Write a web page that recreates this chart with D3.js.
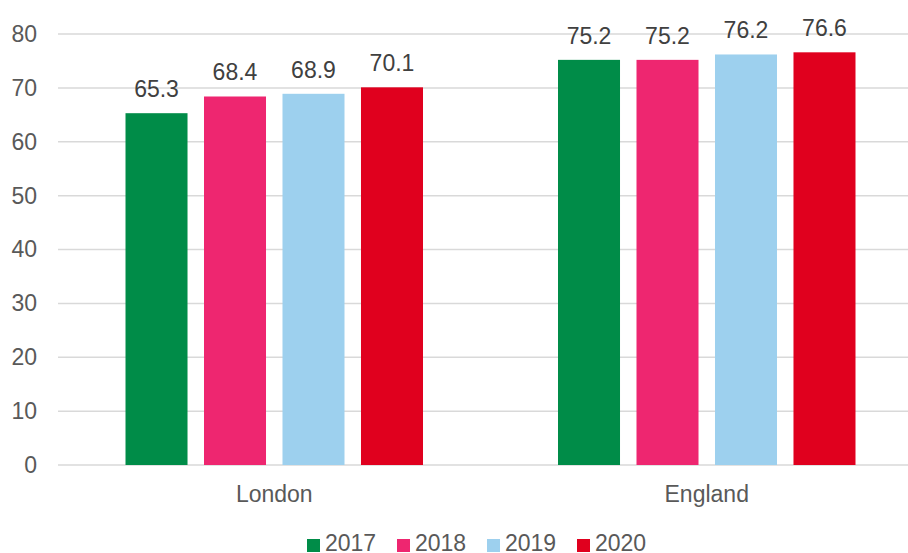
<!DOCTYPE html>
<html>
<head>
<meta charset="utf-8">
<script src="https://cdn.jsdelivr.net/npm/d3@7"></script>
<style>
  body { margin: 0; background: #fff; }
  svg text { font-family: "Liberation Sans", Arial, sans-serif; }
</style>
</head>
<body>
<div id="chart"></div>
<script>
// Chart data
const areas = ["London", "England"];
const years = ["2017", "2018", "2019", "2020"];
const values2017 = [65.3, 75.2];
const values2018 = [68.4, 75.2];
const values2019 = [68.9, 76.2];
const values2020 = [70.1, 76.6];
const yTicks = [0, 10, 20, 30, 40, 50, 60, 70, 80];
const colors = ["#008C48", "#EE2670", "#9DD0EE", "#E0001E"];

const series = [values2017, values2018, values2019, values2020];

const W = 908, H = 553;
const svg = d3.select("#chart").append("svg")
    .attr("width", W).attr("height", H);

// Scales
const y = d3.scaleLinear().domain([0, 80]).range([465, 34]);
const x0 = d3.scaleBand().domain(areas).range([58, 923]).padding(0);
const x1 = d3.scaleBand().domain(years).range([0, x0.bandwidth()])
    .paddingInner(0.21).paddingOuter(0.86);

// Gridlines
svg.append("g").selectAll("line")
    .data(yTicks)
  .enter().append("line")
    .attr("x1", 58).attr("x2", W)
    .attr("y1", d => y(d)).attr("y2", d => y(d))
    .attr("stroke", "#D9D9D9").attr("stroke-width", 1.5);

// Y axis labels
const yAxis = d3.axisLeft(y).tickValues(yTicks).tickSize(0).tickPadding(0);
const gy = svg.append("g").attr("transform", "translate(37,0)").call(yAxis);
gy.select(".domain").remove();
gy.selectAll("text")
    .attr("font-size", 23).attr("fill", "#595959")
    .attr("font-family", "Liberation Sans, Arial, sans-serif");

// Bars
const groups = svg.append("g").selectAll("g")
    .data(areas)
  .enter().append("g")
    .attr("transform", d => `translate(${x0(d)},0)`);

groups.selectAll("rect")
    .data((d, i) => years.map((yr, j) => ({year: yr, value: series[j][i], c: colors[j]})))
  .enter().append("rect")
    .attr("x", d => x1(d.year))
    .attr("width", x1.bandwidth())
    .attr("y", d => y(d.value))
    .attr("height", d => y(0) - y(d.value))
    .attr("fill", d => d.c);

groups.selectAll("text.val")
    .data((d, i) => years.map((yr, j) => ({year: yr, value: series[j][i]})))
  .enter().append("text")
    .attr("class", "val")
    .attr("x", d => x1(d.year) + x1.bandwidth() / 2)
    .attr("y", d => y(d.value) - 16)
    .attr("text-anchor", "middle")
    .attr("font-size", 23).attr("fill", "#404040")
    .text(d => d.value.toFixed(1));

// Category labels
svg.append("g").selectAll("text")
    .data(areas)
  .enter().append("text")
    .attr("x", d => x0(d) + x0.bandwidth() / 2)
    .attr("y", 502)
    .attr("text-anchor", "middle")
    .attr("font-size", 23).attr("fill", "#595959")
    .text(d => d);

// Legend
const legend = svg.append("g").selectAll("g")
    .data(years)
  .enter().append("g")
    .attr("transform", (d, i) => `translate(${307 + i * 90},0)`);
legend.append("rect")
    .attr("x", 0).attr("y", 539).attr("width", 13).attr("height", 13)
    .attr("fill", (d, i) => colors[i]);
legend.append("text")
    .attr("x", 18).attr("y", 551)
    .attr("font-size", 23).attr("fill", "#595959")
    .text(d => d);
</script>
</body>
</html>
